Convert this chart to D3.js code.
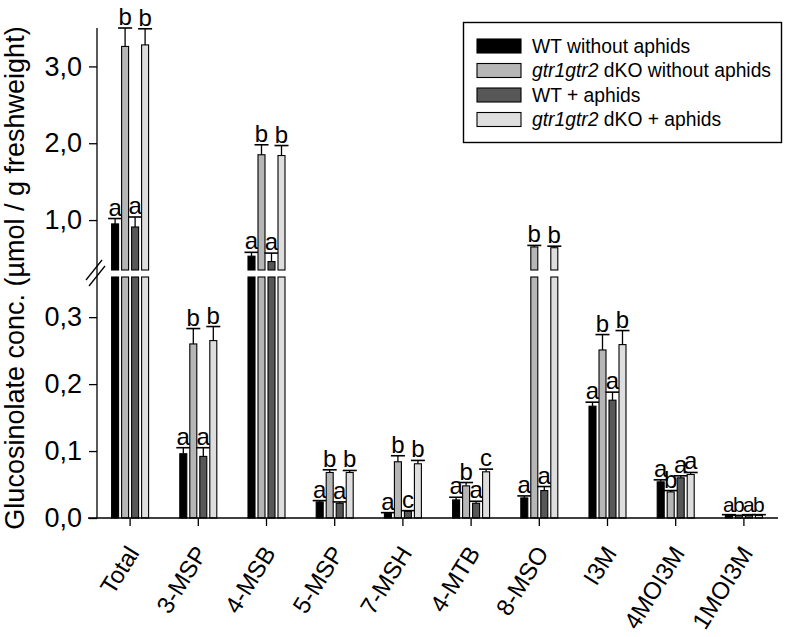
<!DOCTYPE html>
<html>
<head>
<meta charset="utf-8">
<script src="https://cdn.jsdelivr.net/npm/d3@7"></script>
<style>
  html, body { margin: 0; padding: 0; background: #fff; }
  svg { display: block; font-family: "Liberation Sans", Arial, Helvetica, sans-serif; }
</style>
</head>
<body>
<svg id="chart" width="786" height="637"></svg>
<script>
// ---- data ----
const categories = ["Total","3-MSP","4-MSB","5-MSP","7-MSH","4-MTB","8-MSO","I3M","4MOI3M","1MOI3M"];
const seriesNames = ["WT without aphids","gtr1gtr2 dKO without aphids","WT + aphids","gtr1gtr2 dKO + aphids"];
const wtNo     = [0.95, 0.096, 0.53, 0.024, 0.007, 0.027, 0.030, 0.167, 0.054, 0.004];
const wtNoErr  = [0.07, 0.009, 0.05, 0.002, 0.001, 0.004, 0.003, 0.006, 0.003, 0.001];
const koNo     = [3.26, 0.260, 1.85, 0.068, 0.084, 0.048, 0.650, 0.251, 0.039, 0.003];
const koNoErr  = [0.24, 0.023, 0.13, 0.004, 0.009, 0.005, 0.020, 0.023, 0.002, 0.001];
const wtAph    = [0.91, 0.092, 0.46, 0.022, 0.010, 0.022, 0.041, 0.176, 0.060, 0.004];
const wtAphErr = [0.13, 0.013, 0.11, 0.002, 0.001, 0.003, 0.006, 0.012, 0.003, 0.001];
const koAph    = [3.28, 0.265, 1.84, 0.068, 0.081, 0.069, 0.640, 0.259, 0.065, 0.004];
const koAphErr = [0.21, 0.021, 0.13, 0.003, 0.005, 0.004, 0.020, 0.021, 0.003, 0.001];
const lettersWtNo  = ["a","a","a","a","a","a","a","a","a","a"];
const lettersKoNo  = ["b","b","b","b","b","b","b","b","b","b"];
const lettersWtAph = ["a","a","a","a","c","a","a","a","a","a"];
const lettersKoAph = ["b","b","b","b","b","c","b","b","a","b"];
const lowTicks  = [0, 0.1, 0.2, 0.3];
const highTicks = [1, 2, 3];
const colors = ["#000000", "#b6b6b6", "#575757", "#dedede"];

const seriesVals = [wtNo, koNo, wtAph, koAph];
const seriesErr = [wtNoErr, koNoErr, wtAphErr, koAphErr];
const seriesLetters = [lettersWtNo, lettersKoNo, lettersWtAph, lettersKoAph];

const svg = d3.select("#chart");
const axisX = 97;
const lowMax = 0.36, highMin = 0.35;

const x0 = d3.scaleBand().domain(categories).range([96, 778]).padding(0);
const x1 = d3.scaleBand().domain(d3.range(4)).range([-18.5, 18.5]).paddingInner(0.3);
const yLow = d3.scaleLinear().domain([0, lowMax]).range([518, 277]);
const yHigh = d3.scaleLinear().domain([highMin, 3.5]).range([270, 28]);

const fmt = v => d3.format(".1f")(v).replace(".", ",");

// flattened records
const recs = [];
categories.forEach((c, ci) => {
  for (let s = 0; s < 4; s++) {
    recs.push({cat: c, ci, s, v: seriesVals[s][ci], e: seriesErr[s][ci], l: seriesLetters[s][ci]});
  }
});

const g = svg.append("g");

// bars
recs.forEach(d => {
  const xl = x0(d.cat) + x0.bandwidth() / 2 + x1(d.s);
  const w = x1.bandwidth();
  if (d.v <= lowMax) {
    g.append("rect").attr("x", xl).attr("y", yLow(d.v)).attr("width", w)
      .attr("height", yLow(0) - yLow(d.v))
      .attr("fill", colors[d.s]).attr("stroke", "#000").attr("stroke-width", 1.1);
  } else {
    g.append("rect").attr("x", xl).attr("y", yLow(lowMax)).attr("width", w)
      .attr("height", yLow(0) - yLow(lowMax))
      .attr("fill", colors[d.s]).attr("stroke", "#000").attr("stroke-width", 1.1);
    g.append("rect").attr("x", xl).attr("y", yHigh(d.v)).attr("width", w)
      .attr("height", yHigh(highMin) - yHigh(d.v))
      .attr("fill", colors[d.s]).attr("stroke", "#000").attr("stroke-width", 1.1);
  }
  const ys = d.v <= lowMax ? yLow : yHigh;
  const cx = xl + w / 2;
  const yTop = ys(d.v), yErr = ys(d.v + d.e);
  g.append("line").attr("x1", cx).attr("x2", cx).attr("y1", yTop).attr("y2", yErr)
    .attr("stroke", "#000").attr("stroke-width", 1.3);
  g.append("line").attr("x1", cx - 7).attr("x2", cx + 7).attr("y1", yErr).attr("y2", yErr)
    .attr("stroke", "#000").attr("stroke-width", 1.6);
  // the last group is so short that its letters sit side by side; keep them slightly tighter
  const crowded = d.ci === categories.length - 1;
  g.append("text").attr("x", cx).attr("y", yErr - 3).attr("text-anchor", "middle")
    .attr("font-size", crowded ? 21 : 24).attr("fill", "#000").text(d.l);
});

// y axis line
svg.append("line").attr("x1", axisX).attr("x2", axisX).attr("y1", yHigh(3.5)).attr("y2", yLow(0))
  .attr("stroke", "#000").attr("stroke-width", 1.3);
// x axis line
svg.append("line").attr("x1", 88).attr("x2", 778).attr("y1", yLow(0)).attr("y2", yLow(0))
  .attr("stroke", "#000").attr("stroke-width", 1.3);

// y axes (ticks + labels)
function styleAxis(sel) {
  sel.select(".domain").remove();
  sel.selectAll(".tick line").attr("stroke", "#000").attr("stroke-width", 1.3);
  sel.selectAll(".tick text").attr("font-size", 27).attr("fill", "#000")
    .attr("font-family", "'Liberation Sans', Arial, sans-serif");
}
svg.append("g").attr("transform", `translate(${axisX},0)`)
  .call(d3.axisLeft(yLow).tickValues(lowTicks).tickFormat(fmt).tickSize(8).tickPadding(7))
  .call(styleAxis);
svg.append("g").attr("transform", `translate(${axisX},0)`)
  .call(d3.axisLeft(yHigh).tickValues(highTicks).tickFormat(fmt).tickSize(8).tickPadding(7))
  .call(styleAxis);

// break marks
[[0, 0], [3, 6]].forEach(([dx, dy]) => {
  svg.append("line").attr("x1", 86 + dx).attr("y1", 280 + dy).attr("x2", 102 + dx).attr("y2", 260 + dy)
    .attr("stroke", "#000").attr("stroke-width", 1.3);
});

// x axis ticks and labels
const xAxis = svg.append("g").attr("transform", `translate(0,${yLow(0)})`)
  .call(d3.axisBottom(x0).tickSize(8).tickSizeOuter(0));
xAxis.select(".domain").remove();
xAxis.selectAll(".tick line").attr("stroke", "#000").attr("stroke-width", 1.3);
xAxis.selectAll(".tick text").remove();
categories.forEach(c => {
  const tx = x0(c) + x0.bandwidth() / 2;
  svg.append("text").attr("transform", `translate(${tx + 10},553) rotate(-58)`)
    .attr("text-anchor", "end").attr("font-size", 24).attr("fill", "#000").text(c);
});

// y title
svg.append("text").attr("transform", "translate(24,278) rotate(-90)")
  .attr("text-anchor", "middle").attr("font-size", 27).attr("fill", "#000")
  .text("Glucosinolate conc. (µmol / g freshweight)");

// legend
const lg = svg.append("g");
lg.append("rect").attr("x", 463.5).attr("y", 22.5).attr("width", 318).attr("height", 120)
  .attr("fill", "#fff").attr("stroke", "#000").attr("stroke-width", 1.4);
const rowY = d3.scalePoint().domain(d3.range(4)).range([46, 119.5]);
seriesNames.forEach((name, i) => {
  const cy = rowY(i);
  lg.append("rect").attr("x", 477).attr("y", cy - 7).attr("width", 44).attr("height", 14)
    .attr("fill", colors[i]).attr("stroke", "#000").attr("stroke-width", 1.1);
  const t = lg.append("text").attr("x", 532).attr("y", cy).attr("dy", "0.36em")
    .attr("font-size", 19.3).attr("fill", "#000");
  if (name.startsWith("gtr1gtr2")) {
    t.append("tspan").attr("font-style", "italic").text("gtr1gtr2");
    t.append("tspan").text(name.slice(8));
  } else {
    t.text(name);
  }
});
</script>
</body>
</html>
